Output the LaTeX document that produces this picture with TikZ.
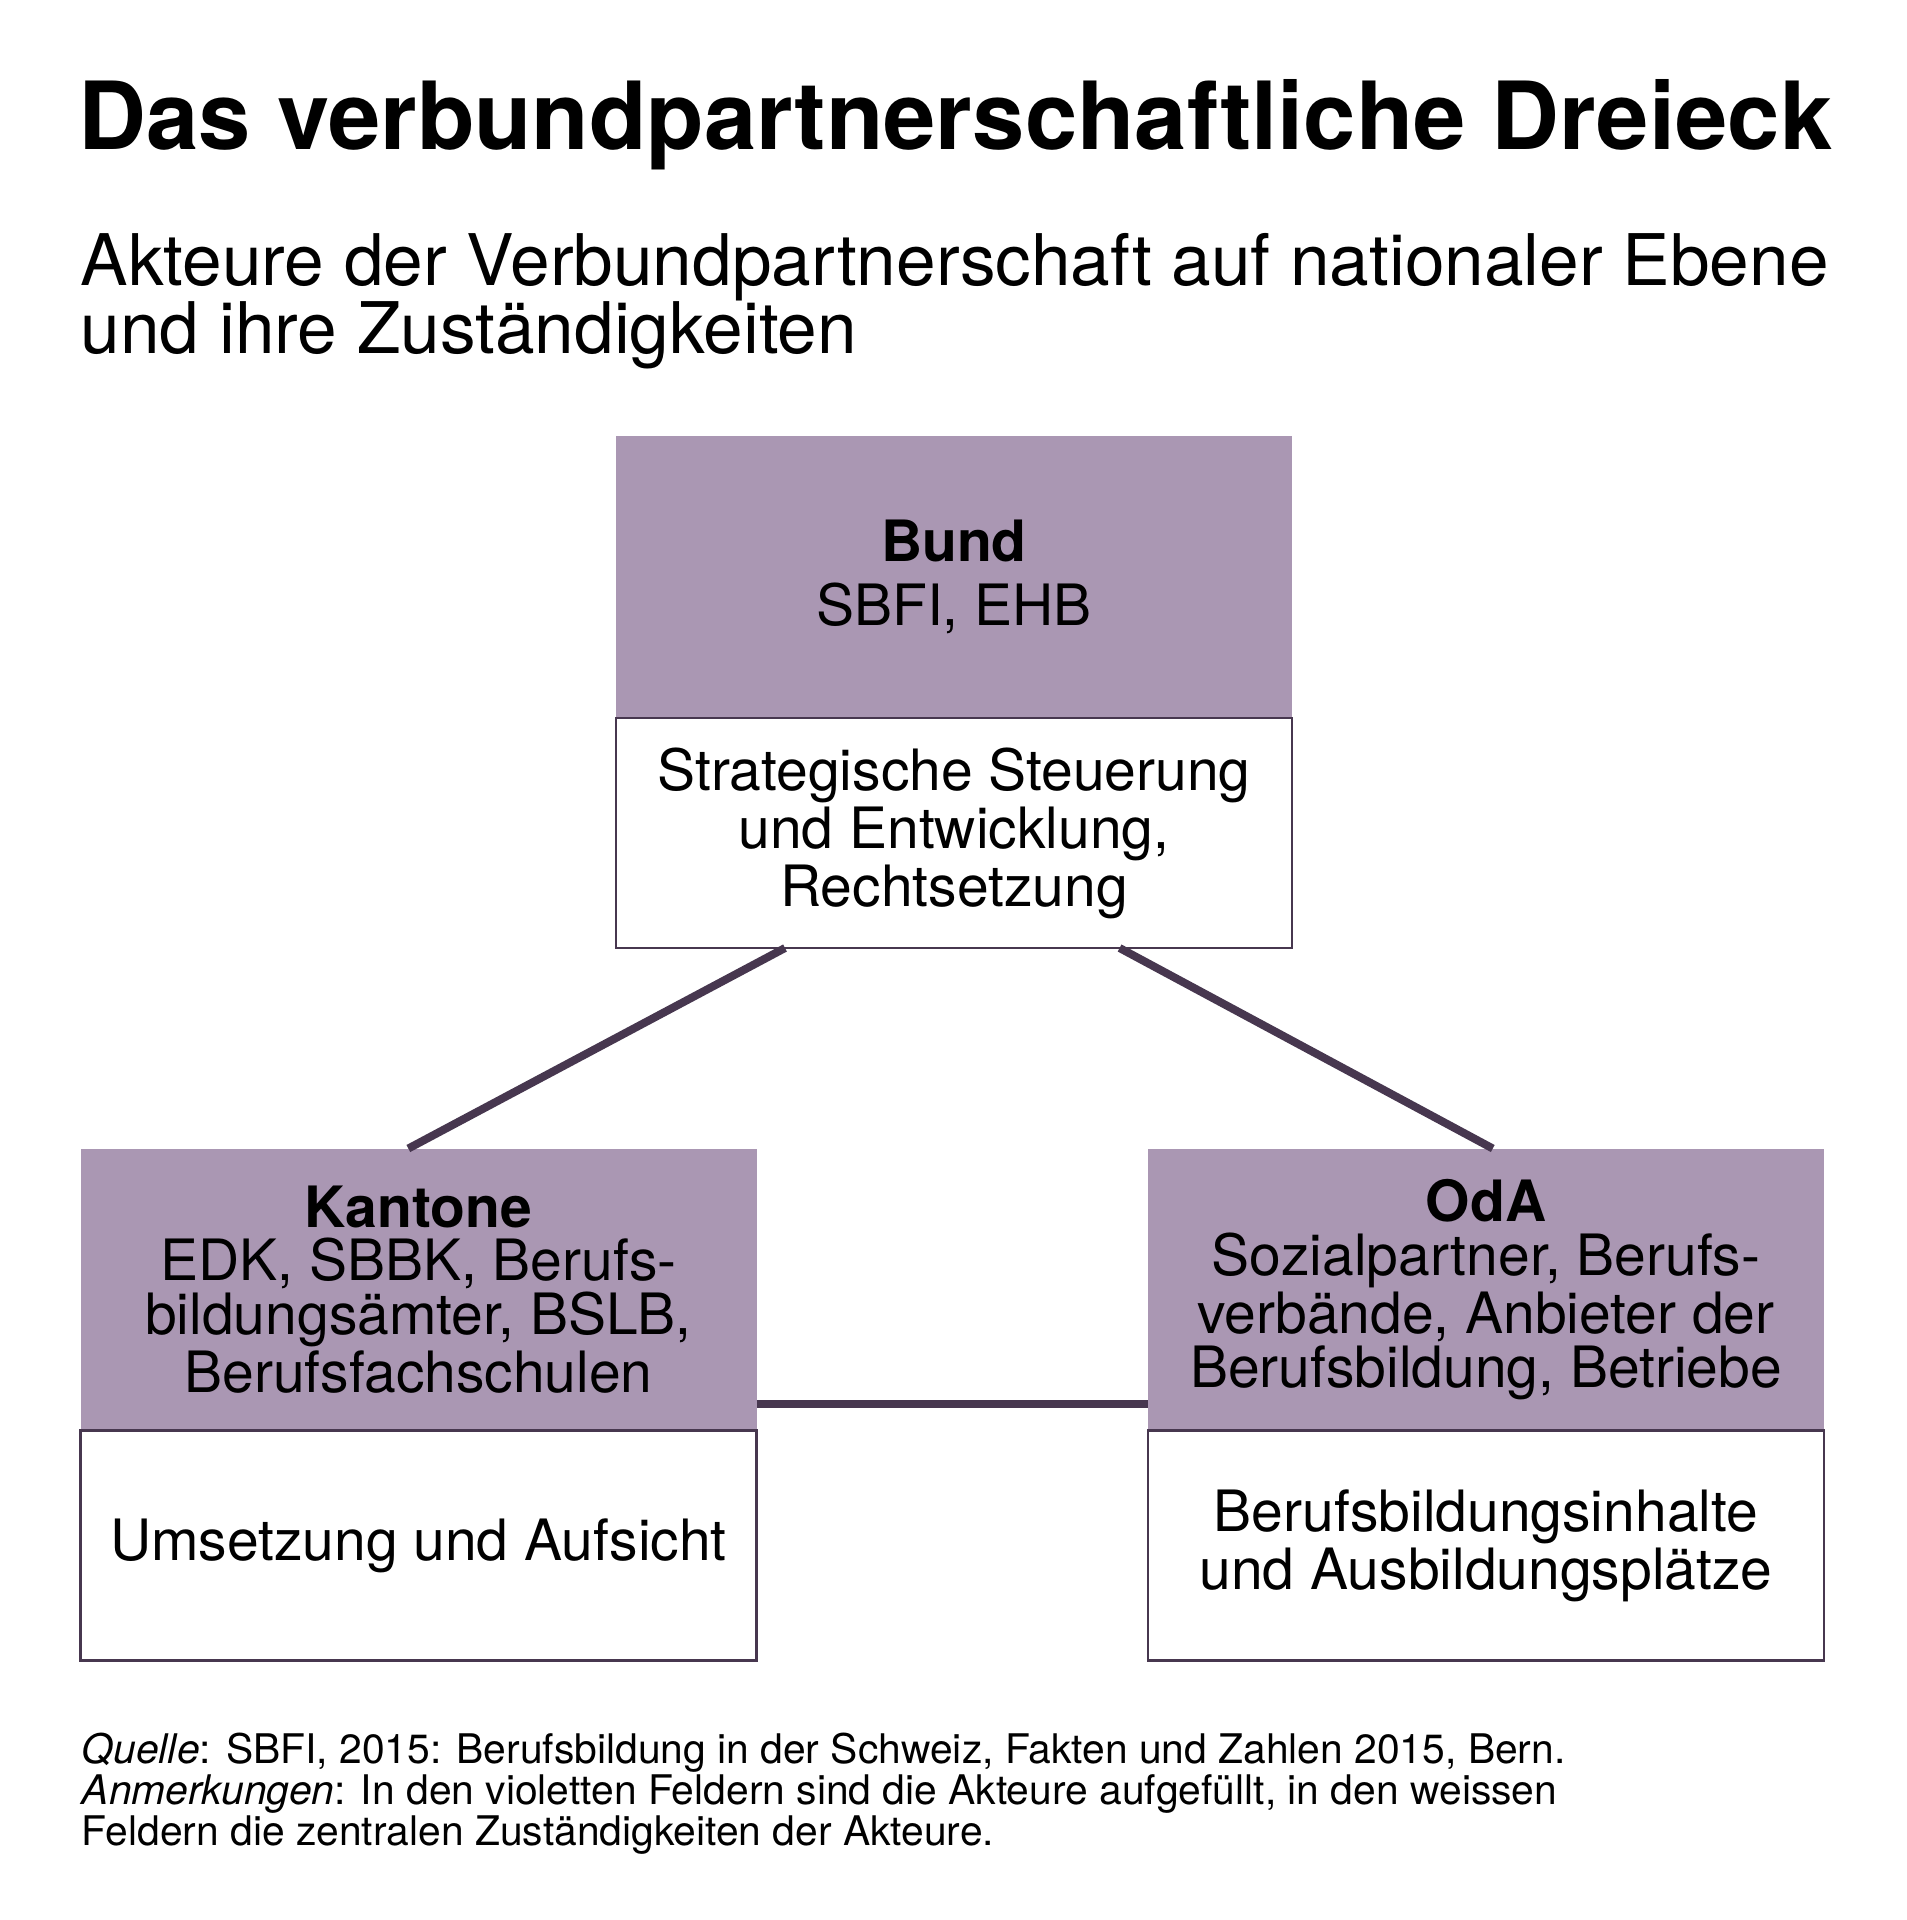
\documentclass[tikz,border=0pt]{standalone}
\usepackage{fontspec}
\setmainfont{TeX Gyre Heros}
\usepackage{tikz}
\usetikzlibrary{positioning}
\usetikzlibrary{calc}
\definecolor{violett}{HTML}{AA97B3}
\definecolor{linie}{HTML}{47374F}
\tikzstyle{akteur}=[rectangle,fill=violett,minimum width=169pt,minimum height=70.5pt,
inner sep=0pt,outer sep=0pt,align=center,font=\fontsize{14.25}{13.4}\selectfont]
\tikzstyle{aufgabe}=[rectangle,draw=linie,line width=0.7pt,fill=white,minimum width=169pt,
minimum height=57.5pt,inner sep=0pt,outer sep=0pt,align=center,font=\fontsize{14.25}{13.4}\selectfont]
\tikzstyle{verbund}=[draw=linie,line width=2pt]
\tikzstyle{textblock}=[anchor=north west,inner sep=0pt,align=left]

\begin{document}
\begin{tikzpicture}[x=0.25pt,y=-0.25pt]
\useasboundingbox (0,0) rectangle (1907,1920);
\node[anchor=base west,inner sep=0pt,font=\fontsize{23.5}{24}\selectfont\bfseries] (titel) at (78,149) {Das verbundpartnerschaftliche Dreieck};
\node[textblock,font=\fontsize{17.8}{17}\selectfont] (untertitel) at (80,233) {Akteure der Verbundpartnerschaft auf nationaler Ebene\\und ihre Zuständigkeiten};
\node[akteur] (bund) at (954,577) {\textbf{Bund}\\[2.75pt]SBFI, EHB};
\node[aufgabe,below=0pt of bund] (bundA) {Strategische Steuerung\\und Entwicklung,\\Rechtsetzung};
\node[akteur] (kantone) at (418.5,1289.5) {\textbf{Kantone}\\EDK, SBBK, Berufs-\\bildungsämter, BSLB,\\Berufsfachschulen};
\node[aufgabe,below=0pt of kantone] (kantoneA) {Umsetzung und Aufsicht};
\node[akteur] (oda) at (1486,1289.5) {\textbf{OdA}\\Sozialpartner, Berufs-\\verbände, Anbieter der\\Berufsbildung, Betriebe};
\node[aufgabe,below=0pt of oda] (odaA) {Berufsbildungsinhalte\\und Ausbildungsplätze};
\node[textblock,font=\fontsize{10.2}{10.25}\selectfont] (quelle) at (81,1732) {\textit{Quelle}: SBFI, 2015: Berufsbildung in der Schweiz, Fakten und Zahlen 2015, Bern.\\\textit{Anmerkungen}: In den violetten Feldern sind die Akteure aufgefüllt, in den weissen\\Feldern die zentralen Zuständigkeiten der Akteure.};
%Verbindungen
\draw[verbund] ($(bundA.south west)!0.25!(bundA.south east)$) -- ($(kantone.north west)!0.485!(kantone.north east)$);
\draw[verbund] ($(bundA.south west)!0.745!(bundA.south east)$) -- ($(oda.north west)!0.51!(oda.north east)$);
\draw[verbund] ($(kantone.south east)+(0,-27)$) -- ($(oda.south west)+(0,-27)$);
\end{tikzpicture}
\end{document}
